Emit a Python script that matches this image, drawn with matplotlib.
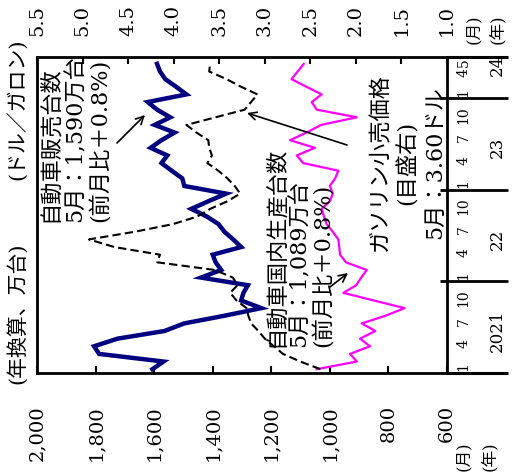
import matplotlib.pyplot as plt
from matplotlib.transforms import blended_transform_factory

plt.rcParams['font.family'] = ['DejaVu Serif', 'Noto Sans CJK JP']

# monthly, Jan 2021 .. May 2024
sales = [1606, 1568, 1788, 1805, 1725, 1565, 1497, 1360, 1234, 1303, 1295, 1280,
         1440, 1371, 1390, 1400, 1303, 1330, 1360, 1380, 1420, 1473, 1415, 1354,
         1497, 1504, 1540, 1575, 1555, 1612, 1575, 1530, 1598, 1545, 1590, 1622,
         1490, 1525, 1562, 1580, 1590]
production = [1045, 908, 931, 863, 897, 845, 891, 810, 745, 850, 954, 910,
              893, 874, 945, 965, 968, 971, 990, 1011, 1020, 1028, 1000, 990,
              1000, 982, 971, 1091, 1113, 1051, 1136, 1080, 1030, 908, 1045, 1062,
              1028, 1080, 1131, 1110, 1089]
gasoline = [2.39, 2.61, 2.80, 2.90, 3.00, 3.07, 3.15, 3.18, 3.20, 3.31, 3.38, 3.30,
            3.35, 3.55, 4.18, 4.15, 4.65, 4.93, 4.43, 4.01, 3.74, 3.60, 3.41, 3.27,
            3.33, 3.41, 3.51, 3.63, 3.58, 3.61, 3.62, 3.75, 3.86, 3.54, 3.22, 3.15,
            3.08, 3.26, 3.42, 3.61, 3.60]

left_ticks = [2000, 1800, 1600, 1400, 1200, 1000, 800, 600]
right_ticks = [5.5, 5.0, 4.5, 4.0, 3.5, 3.0, 2.5, 2.0, 1.5, 1.0]
years = ['2021', '22', '23', '24']
month_marks = [1, 4, 7, 10]
last_months = [1, 4, 5]

W, H = 513, 472
def fx(px):
    return px / W
def fy(py):
    return 1 - py / H

fig = plt.figure(figsize=(W / 100, H / 100), dpi=100)
ax = fig.add_axes([fx(37), fy(373), 410 / W, 316 / H])

t = [k + 0.5 for k in range(len(sales))]

ax.plot(production, t, color='#ff00ff', lw=1.6)
ax.plot(sales, t, color='#000080', lw=3.2, solid_joinstyle='miter')
ax.set_xlim(2000, 600)
ax.set_ylim(0, 41.4)
ax.set_yticks([])
ax.set_xticks(left_ticks)
ax.set_xticklabels([f'{v:,}' for v in left_ticks])
ax.tick_params(axis='x', direction='in', length=5, width=1.5, pad=23,
               labelrotation=90, labelsize=14)
for s in ax.spines.values():
    s.set_linewidth(2)

ax2 = ax.twiny()
ax2.plot(gasoline, t, color='k', lw=1.5, ls=(0, (4, 2)))
ax2.set_xlim(5.5, 1.0)
ax2.set_xticks(right_ticks)
ax2.set_xticklabels([f'{v:.1f}' for v in right_ticks])
ax2.tick_params(axis='x', direction='in', length=5, width=1.5, pad=15,
                labelrotation=90, labelsize=14)
for s in ax2.spines.values():
    s.set_visible(False)

# time "table" on the right side
tr = blended_transform_factory(ax.transAxes, ax.transData)
x_end = fx(508 - 37) * W / 410
for yy in [0, 1]:
    ax.plot([1, x_end], [yy, yy], transform=ax.transAxes, color='k', lw=2.2,
            clip_on=False, solid_capstyle='butt')
for i in range(1, len(years)):
    ax.plot([0.983, x_end], [12 * i, 12 * i], transform=tr, color='k', lw=2,
            clip_on=False, solid_capstyle='butt')

for i, yr in enumerate(years):
    last = i == len(years) - 1
    months = last_months if last else month_marks
    for m in months:
        pos = 12 * i + m - 0.2
        if last and m == 4:
            pos -= 0.45
        if last and m == 5:
            pos -= 0.1
        ax.text(1.041, pos, str(m), transform=tr, rotation=90,
                ha='center', va='center', fontsize=10)
    ypos = 40.3 if last else 12 * i + 5.5
    ax.text(1.122, ypos, yr, transform=tr, rotation=90,
            ha='center', va='center', fontsize=12)

fig.text(fx(473), fy(44), '(月)', rotation=90, ha='center', va='bottom', fontsize=12)
fig.text(fx(497), fy(44), '(年)', rotation=90, ha='center', va='bottom', fontsize=12)
fig.text(fx(463), fy(471), '(月)', rotation=90, ha='center', va='bottom', fontsize=12)
fig.text(fx(490), fy(471), '(年)', rotation=90, ha='center', va='bottom', fontsize=12)

fig.text(fx(17), fy(384), '(年換算、万台)', rotation=90, ha='center', va='bottom', fontsize=15)
fig.text(fx(17), fy(38), '(ドル／ガロン)', rotation=90, ha='center', va='top', fontsize=15)

fs = 16
fig.text(fx(39), fy(222), '自動車販売台数\n5月：1,590万台\n(前月比＋0.8%)', rotation=90,
         ha='left', va='bottom', multialignment='left', fontsize=fs, linespacing=1.2)
fig.text(fx(265), fy(347), '自動車国内生産台数\n5月：1,089万台\n(前月比＋0.8%)', rotation=90,
         ha='left', va='bottom', multialignment='left', fontsize=fs, linespacing=1.12)
fig.text(fx(408), fy(163), 'ガソリン小売価格\n(目盛右)\n5月：3.60ドル', rotation=90,
         ha='center', va='center', multialignment='center', fontsize=fs, linespacing=1.3)

arrows = [((117, 143), (145, 115)), ((330, 287), (348, 273)), ((347, 145), (247, 113))]
for (x0, y0), (x1, y1) in arrows:
    ax.annotate('', xy=(fx(x1), fy(y1)), xytext=(fx(x0), fy(y0)),
                xycoords='figure fraction', textcoords='figure fraction',
                arrowprops=dict(arrowstyle='->', color='k', lw=1.2,
                                shrinkA=0, shrinkB=0, mutation_scale=14))

fig.savefig('out.png', dpi=100)
